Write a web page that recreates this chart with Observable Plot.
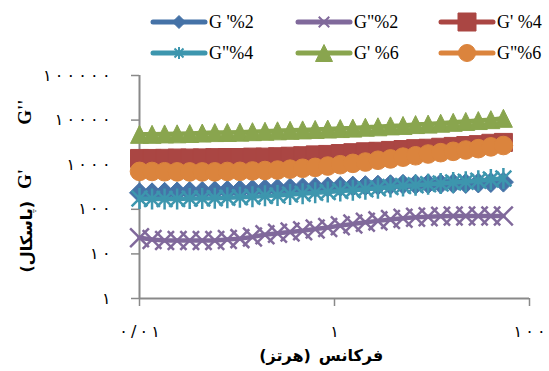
<!DOCTYPE html>
<html>
<head>
<meta charset="utf-8">
<script src="https://cdn.jsdelivr.net/npm/d3@7"></script>
<script src="https://cdn.jsdelivr.net/npm/@observablehq/plot@0.6"></script>
<style>
  body { margin: 0; background: #fff; }
  #wrap { width: 549px; height: 371px; position: relative; overflow: hidden; }
  #legend { position: relative; width: 549px; height: 60px; z-index: 2; }
  .lg-sym { position: absolute; }
  .lg-txt { position: absolute; font-family: "Liberation Serif", serif; font-size: 18px; line-height: 22px; color: #000; white-space: pre; }
</style>
</head>
<body>
<div id="wrap"><div id="legend"></div><div id="chart"></div></div>
<script>
// ---- data ----
const freq = [0.01, 0.01345, 0.01809, 0.02432, 0.03272, 0.0440, 0.05918, 0.07959, 0.1071, 0.1440,
              0.1936, 0.2604, 0.3503, 0.4711, 0.6336, 0.8522, 1.146, 1.542, 2.073, 2.789,
              3.750, 5.044, 6.784, 9.123, 12.27, 16.50, 22.19, 29.85, 40.14, 54.0];
const seriesNames = ["G '%2", "G\"%2", "G' %4", "G\"%4", "G' %6", "G\"%6"];
const gp2  = [234,234,240,245,251,251,257,263,269,275,282,288,295,302,309,316,324,331,339,347,355,363,363,372,372,380,380,389,398,407];
const gpp2 = [23,21,20,20,20,20,20,21,22,24,27,29,31,33,36,39,43,47,51,55,59,63,66,68,70,71,71,71,71,71];
const gp4  = [1380,1380,1390,1410,1410,1420,1440,1450,1450,1480,1480,1510,1550,1590,1660,1700,1780,1860,1950,2000,2090,2190,2290,2340,2460,2570,2690,2820,3020,3160];
const gpp4 = [174,170,170,170,174,174,178,182,186,191,200,204,214,224,234,245,257,269,282,295,316,331,347,363,380,398,417,437,468,490];
const gp6  = [4790,4800,4900,4920,5010,5130,5250,5280,5370,5500,5620,5750,5890,6030,6170,6310,6460,6610,6920,7080,7410,7590,7940,8130,8510,8910,9330,9770,10230,10960];
const gpp6 = [708,705,695,692,690,690,692,705,710,724,741,759,794,832,871,933,1000,1072,1148,1259,1349,1479,1585,1738,1862,1995,2138,2291,2512,2692];
const xTicks = [0.01, 1, 100];
const xTickLabels = ["۰/۰۱", "۱", "۱۰۰"];
const yTicks = [1, 10, 100, 1000, 10000, 100000];
const yTickLabels = ["۱", "۱۰", "۱۰۰", "۱۰۰۰", "۱۰۰۰۰", "۱۰۰۰۰۰"];
const xTitleWord = "فرکانس";
const xTitleUnit = "(هرتز)";
const yTitleUnit = "(پاسکال)";

// ---- styles ----
const colors = ["#4572A7", "#80699B", "#AA4643", "#3D96AE", "#89A54E", "#DB843D"];
const spaced = s => Array.from(s).join("\u2009");
const rad = s => Math.sqrt(s / Math.PI);
const symDiamond = {draw(c, s) { const r = rad(s); c.moveTo(0, -r); c.lineTo(r, 0); c.lineTo(0, r); c.lineTo(-r, 0); c.closePath(); }};
const symX = {draw(c, s) { const r = rad(s) * 0.75; c.moveTo(-r, -r); c.lineTo(r, r); c.moveTo(r, -r); c.lineTo(-r, r); }};
const symSquare = {draw(c, s) { const r = rad(s); c.rect(-r, -r, 2 * r, 2 * r); }};
const symStar = {draw(c, s) { const r = rad(s); const q = r * 0.75; c.moveTo(-q, -q); c.lineTo(q, q); c.moveTo(q, -q); c.lineTo(-q, q); c.moveTo(0, -r); c.lineTo(0, r); }};
const symTri = {draw(c, s) { const r = rad(s); c.moveTo(0, -r); c.lineTo(r, r); c.lineTo(-r, r); c.closePath(); }};
const symCircle = {draw(c, s) { const r = rad(s); c.moveTo(r, 0); c.arc(0, 0, r, 0, 2 * Math.PI); }};
const symbols = [symDiamond, symX, symSquare, symStar, symTri, symCircle];
const filled = [true, false, true, false, true, true];
const sizes = [10, 12.5, 9, 10.5, 9, 9.3];
const legendSizes = [6.5, 7, 9, 6, 8.5, 8.5];

const allSeries = [gp2, gpp2, gp4, gpp4, gp6, gpp6];
const rows = allSeries.map(vals => vals.map((v, i) => ({f: freq[i], v})));

const marks = [
  Plot.ruleX([0.01], {stroke: "#898989", strokeWidth: 2}),
  Plot.ruleY([1], {stroke: "#898989", strokeWidth: 2}),
  Plot.axisX({ticks: xTicks, tickFormat: d => spaced(xTickLabels[xTicks.indexOf(d)]), tickSize: 8, tickPadding: 19, stroke: "#898989", strokeWidth: 1.5, fill: "#000", label: null}),
  Plot.axisY({ticks: yTicks, tickFormat: d => spaced(yTickLabels[yTicks.indexOf(d)]), tickSize: 8, tickPadding: 21, stroke: "#898989", strokeWidth: 1.5, fill: "#000", label: null})
];
rows.forEach((data, i) => {
  marks.push(Plot.line(data, {x: "f", y: "v", stroke: colors[i], strokeWidth: 4.5}));
  marks.push(Plot.dot(data, filled[i]
    ? {x: "f", y: "v", symbol: symbols[i], r: sizes[i], fill: colors[i], stroke: colors[i], strokeWidth: 1}
    : {x: "f", y: "v", symbol: symbols[i], r: sizes[i], fill: "none", stroke: colors[i], strokeWidth: 2.5}));
});

const chart = Plot.plot({
  width: 549, height: 311,
  marginLeft: 139, marginRight: 20, marginTop: 15, marginBottom: 73,
  style: {fontSize: "16px", fontFamily: "'DejaVu Sans', sans-serif", background: "#fff", color: "#000"},
  x: {type: "log", domain: [0.01, 100], axis: null},
  y: {type: "log", domain: [1, 100000], axis: null},
  marks
});
document.getElementById("chart").appendChild(chart);

// axis titles (right-to-left: word on the right, unit on the left)
const svg = d3.select(chart);
svg.append("text")
  .attr("x", 351).attr("y", 296)
  .attr("text-anchor", "middle").attr("dominant-baseline", "middle")
  .attr("font-family", "'DejaVu Sans', sans-serif").attr("font-weight", "bold").attr("font-size", 16)
  .text(xTitleWord);
svg.append("text")
  .attr("x", 285).attr("y", 296)
  .attr("text-anchor", "middle").attr("dominant-baseline", "middle")
  .attr("font-family", "'DejaVu Sans', sans-serif").attr("font-weight", "bold").attr("font-size", 16)
  .text(xTitleUnit);
const yt = svg.append("text")
  .attr("transform", "translate(27,126) rotate(-90)")
  .attr("text-anchor", "middle").attr("dominant-baseline", "middle")
  .attr("font-weight", "bold");
yt.append("tspan").attr("font-family", "'DejaVu Sans', sans-serif").attr("font-size", 16).text(yTitleUnit);
yt.append("tspan").attr("font-family", "'Liberation Serif', serif").attr("font-size", 19).attr("dx", 12).text("G'");
yt.append("tspan").attr("font-family", "'Liberation Serif', serif").attr("font-size", 19).attr("dx", 44).text("G''");

// legend
const legend = document.getElementById("legend");
const colX = [152, 297, 440];
const rowY = [22, 53];
seriesNames.forEach((name, i) => {
  const cx = colX[i % 3], cy = rowY[Math.floor(i / 3)];
  const s = d3.create("svg").attr("class", "lg-sym").attr("width", 58).attr("height", 22)
    .style("left", (cx - 2) + "px").style("top", (cy - 11) + "px");
  s.append("line").attr("x1", 3).attr("x2", 55).attr("y1", 11).attr("y2", 11)
    .attr("stroke", colors[i]).attr("stroke-width", 5).attr("stroke-linecap", "round");
  const p = d3.symbol().type(symbols[i]).size(Math.PI * legendSizes[i] ** 2)();
  s.append("path").attr("d", p).attr("transform", "translate(29,11)")
    .attr("fill", filled[i] ? colors[i] : "none").attr("stroke", colors[i]).attr("stroke-width", filled[i] ? 1 : 2);
  legend.appendChild(s.node());
  const t = document.createElement("div");
  t.className = "lg-txt";
  t.style.left = (cx + 57) + "px";
  t.style.top = (cy - 11) + "px";
  t.textContent = name;
  legend.appendChild(t);
});
</script>
</body>
</html>
